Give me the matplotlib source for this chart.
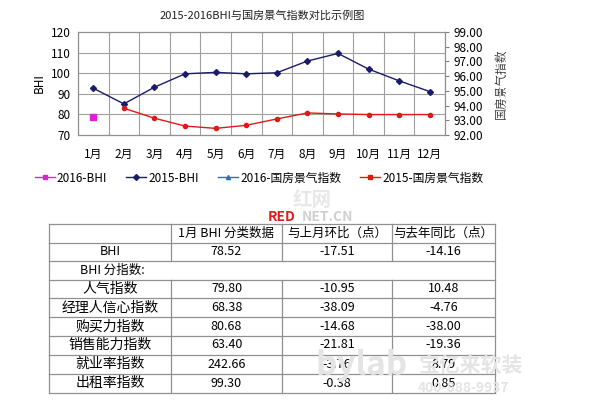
import matplotlib
matplotlib.use("Agg")
import matplotlib.pyplot as plt
from matplotlib.lines import Line2D

plt.rcParams['font.family'] = ['Noto Sans CJK SC', 'DejaVu Sans']

months = ['1月', '2月', '3月', '4月', '5月', '6月', '7月', '8月', '9月', '10月', '11月', '12月']
bhi_2015 = [92.7, 85.1, 93.2, 99.7, 100.4, 99.7, 100.2, 105.9, 109.6, 102.0, 96.3, 91.1]
bhi_2016 = [78.52]
gf_2015 = [None, 93.82, 93.14, 92.61, 92.45, 92.66, 93.09, 93.50, 93.43, 93.39, 93.39, 93.39]

table_header = ['', '1月 BHI 分类数据', '与上月环比（点）', '与去年同比（点）']
row_names = ['人气指数', '经理人信心指数', '购买力指数', '销售能力指数', '就业率指数', '出租率指数']
row_month = ['79.80', '68.38', '80.68', '63.40', '242.66', '99.30']
row_mom = ['-10.95', '-38.09', '-14.68', '-21.81', '-3.76', '-0.38']
row_yoy = ['10.48', '-4.76', '-38.00', '-19.36', '8.79', '0.85']
bhi_row = ['BHI', '78.52', '-17.51', '-14.16']

W, H = 600, 400
fig = plt.figure(figsize=(6, 4), dpi=100)
fig.patch.set_facecolor('white')


def rect(x0, y0, x1, y1):
    return [x0 / W, 1 - y1 / H, (x1 - x0) / W, (y1 - y0) / H]


# ---- chart ----
ax = fig.add_axes(rect(78, 32, 445, 135))
ax2 = ax.twinx()
x = list(range(1, 13))

ax.plot(x, bhi_2015, color='#1a1a6e', lw=1, marker='D', ms=3, zorder=3)
ax.plot([1], bhi_2016, color='#e020d8', lw=0, marker='s', ms=4, zorder=3)
gx = [i for i, v in zip(x, gf_2015) if v is not None]
gy = [v for v in gf_2015 if v is not None]
ax2.plot(gx, gy, color='#e01818', lw=1, marker='o', ms=3, zorder=3)

ax.set_xlim(0.5, 12.5)
ax.set_ylim(70, 120)
ax.set_yticks(range(70, 121, 10))
ax2.set_ylim(92, 99)
ax2.set_yticks(range(92, 100))
ax2.set_yticklabels(['%.2f' % v for v in range(92, 100)])
ax.set_xticks(x)
ax.set_xticklabels(months)
ax.set_xticks([i + 0.5 for i in range(0, 13)], minor=True)
ax.grid(True, which='minor', axis='x', color='#a0a0a0', lw=0.8)
ax.grid(True, which='major', axis='y', color='#a0a0a0', lw=0.8)
ax.tick_params(axis='x', which='both', length=0, labelsize=8.5, pad=9)
ax.tick_params(axis='y', length=0, labelsize=8.5, pad=5)
ax2.tick_params(axis='y', length=3, labelsize=8.5, pad=3, color='#808080')
for a in (ax, ax2):
    for s in a.spines.values():
        s.set_color('#909090')
        s.set_linewidth(0.8)
ax.set_ylabel('BHI', fontsize=8.5, labelpad=4)
ax2.set_ylabel('国房景气指数', fontsize=8.5, rotation=90, labelpad=9,
               family=['Noto Serif CJK SC', 'Noto Sans CJK SC'], color='#303030')

fig.text(0.437, 0.975, '2015-2016BHI与国房景气指数对比示例图', ha='center', va='top',
         fontsize=8, color='#202020')

handles = [
    Line2D([], [], color='#e020d8', marker='s', ms=3, lw=1),
    Line2D([], [], color='#1a1a6e', marker='D', ms=3, lw=1),
    Line2D([], [], color='#3070c0', marker='^', ms=3, lw=1),
    Line2D([], [], color='#e01818', marker='s', ms=3, lw=1),
]
labels = ['2016-BHI', '2015-BHI', '2016-国房景气指数', '2015-国房景气指数']
fig.legend(handles, labels, loc='center', bbox_to_anchor=(0.432, 1 - 178 / H), ncol=4,
           frameon=False, fontsize=8.5, handlelength=1.7, handletextpad=0.2, columnspacing=1.6)

# ---- table ----
tx = fig.add_axes([0, 0, 1, 1])
tx.set_xlim(0, W)
tx.set_ylim(H, 0)
tx.axis('off')

cols = [49, 171, 282, 392, 495]
rows = [224, 242.5, 261, 279.5, 298, 317, 335.5, 354.5, 373.5, 393]
lc = '#909090'
for y in rows:
    tx.plot([cols[0], cols[-1]], [y, y], color=lc, lw=0.9)
for c in (cols[0], cols[-1]):
    tx.plot([c, c], [rows[0], rows[-1]], color=lc, lw=0.9)
for c in cols[1:-1]:
    tx.plot([c, c], [rows[0], rows[2]], color=lc, lw=0.9)
    tx.plot([c, c], [rows[3], rows[-1]], color=lc, lw=0.9)

centers = [(cols[i] + cols[i + 1]) / 2 for i in range(4)]
fs = 9
for i, t in enumerate(table_header):
    tx.text(centers[i], (rows[0] + rows[1]) / 2, t, ha='center', va='center', fontsize=fs)
for i, t in enumerate(bhi_row):
    tx.text(centers[i], (rows[1] + rows[2]) / 2, t, ha='center', va='center', fontsize=fs)
tx.text(centers[0] - 30, (rows[2] + rows[3]) / 2, 'BHI 分指数:', ha='left', va='center', fontsize=fs)
for r in range(len(row_names)):
    yc = (rows[r + 3] + rows[r + 4]) / 2
    for i, t in enumerate([row_names[r], row_month[r], row_mom[r], row_yoy[r]]):
        tx.text(centers[i], yc, t, ha='center', va='center', fontsize=10 if i == 0 else fs)

# watermarks
tx.text(268, 217, 'RED', color='#e02020', fontsize=10, fontweight='bold', ha='left', va='center')
tx.text(302, 217, 'NET.CN', color='#d0d0d0', fontsize=10, fontweight='bold', ha='left', va='center')
tx.text(312, 200, '红网', color='#e8e8e8', fontsize=14, fontweight='bold', ha='center', va='center')
tx.text(315, 366, 'bylab', color='#e4e4e4', fontsize=24, fontweight='bold', ha='left', va='center')
tx.text(418, 366, '宝亿来软装', color='#e4e4e4', fontsize=15, fontweight='bold', ha='left', va='center')
tx.text(418, 388, '400-888-9937', color='#e4e4e4', fontsize=10, fontweight='bold', ha='left', va='center')

fig.savefig('out.png', dpi=100)
